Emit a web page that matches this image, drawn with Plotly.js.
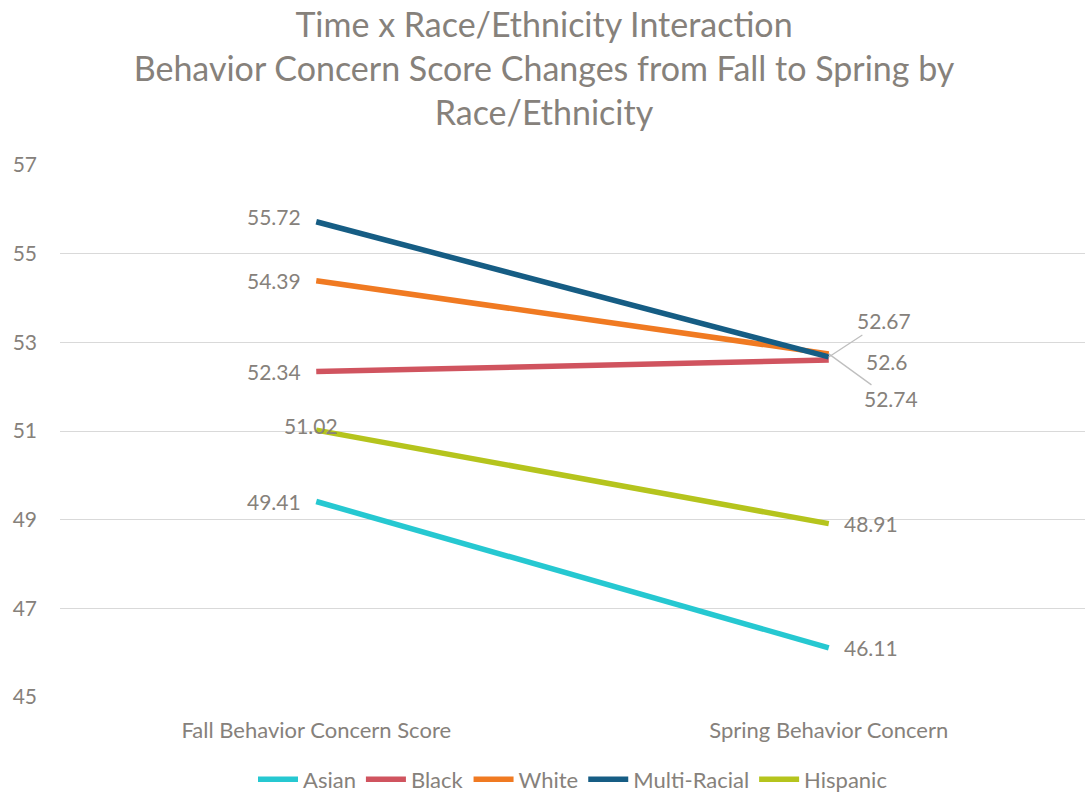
<!DOCTYPE html>
<html><head><meta charset="utf-8">
<script src="https://cdn.plot.ly/plotly-3.0.1.min.js"></script>
<style>html,body{margin:0;padding:0;background:#fff}#chart{width:1088px;height:792px}</style>
</head><body><div id="chart"></div>
<script>
var categories = ["Fall Behavior Concern Score", "Spring Behavior Concern"];
var seriesNames = ["Asian", "Black", "White", "Multi-Racial", "Hispanic"];
var asian = [49.41, 46.11];
var black = [52.34, 52.6];
var white = [54.39, 52.74];
var multiRacial = [55.72, 52.67];
var hispanic = [51.02, 48.91];
var colors = ["#26C8D1", "#D0545F", "#F07A22", "#165D84", "#B5C41D"];
var yTicks = [45, 47, 49, 51, 53, 55, 57];

var values = [asian, black, white, multiRacial, hispanic];
var txt = "#86817B";
var font = "Lato, 'Open Sans', sans-serif";

var traces = values.map(function(v, i){
  return {x: categories, y: v, name: seriesNames[i], type: "scatter", mode: "lines",
    line: {color: colors[i], width: 5.5}, hoverinfo: "skip"};
});

var leftShift = {0:[-42,0],1:[-42,0],2:[-42,0],3:[-42,5],4:[-5,5]};
var annotations = [];
var lf = {family: font, size: 21, color: txt};
values.forEach(function(v, i){
  var s = leftShift[i];
  annotations.push({x: categories[0], y: v[0], text: String(v[0]), showarrow: false,
    xanchor: "center", yanchor: "middle", xshift: s[0], yshift: s[1], font: lf});
});
[0, 4].forEach(function(i){
  annotations.push({x: categories[1], y: values[i][1], text: String(values[i][1]), showarrow: false,
    xanchor: "center", yanchor: "middle", xshift: 42, yshift: 0, font: lf});
});
annotations.push({x: categories[1], y: black[1], text: String(black[1]), showarrow: false,
  xanchor: "left", yanchor: "middle", xshift: 35, yshift: -1, font: lf});
annotations.push({x: categories[1], y: multiRacial[1], text: String(multiRacial[1]), showarrow: true,
  arrowhead: 0, arrowwidth: 1.3, arrowcolor: "#BFBFBF", ax: 55, ay: -36, xanchor: "center", yanchor: "middle", font: lf});
annotations.push({x: categories[1], y: white[1], text: String(white[1]), showarrow: true,
  arrowhead: 0, arrowwidth: 1.3, arrowcolor: "#BFBFBF", ax: 62, ay: 45, xanchor: "center", yanchor: "middle", font: lf});

var layout = {
  width: 1088, height: 792,
  paper_bgcolor: "#fff", plot_bgcolor: "#fff",
  margin: {l: 60, r: 3, t: 165, b: 95},
  title: {text: "Time x Race/Ethnicity Interaction<br>Behavior Concern Score Changes from Fall to Spring by<br>Race/Ethnicity",
    x: 0.5, xanchor: "center", y: 1 - 37/792, yanchor: "middle", yref: "container",
    font: {family: font, size: 34, color: txt}},
  xaxis: {type: "category", range: [-0.5, 1.5], showgrid: false, zeroline: false, showline: false,
    ticks: "", ticklabelstandoff: 18, tickfont: {family: font, size: 22, color: txt}},
  yaxis: {range: [45, 57], tickvals: yTicks, ticktext: yTicks.map(String), showgrid: true,
    gridcolor: "#D9D9D9", gridwidth: 1, zeroline: false, showline: false, ticks: "",
    ticklabelstandoff: 22, tickfont: {family: font, size: 21, color: txt}},
  showlegend: true,
  legend: {orientation: "h", x: 0.5, xanchor: "center", y: 0.016, yref: "container", yanchor: "middle",
    font: {family: font, size: 22, color: txt}, itemwidth: 40, tracegroupgap: 0},
  annotations: annotations
};
Plotly.newPlot("chart", traces, layout, {staticPlot: true, displayModeBar: false});
</script></body></html>
